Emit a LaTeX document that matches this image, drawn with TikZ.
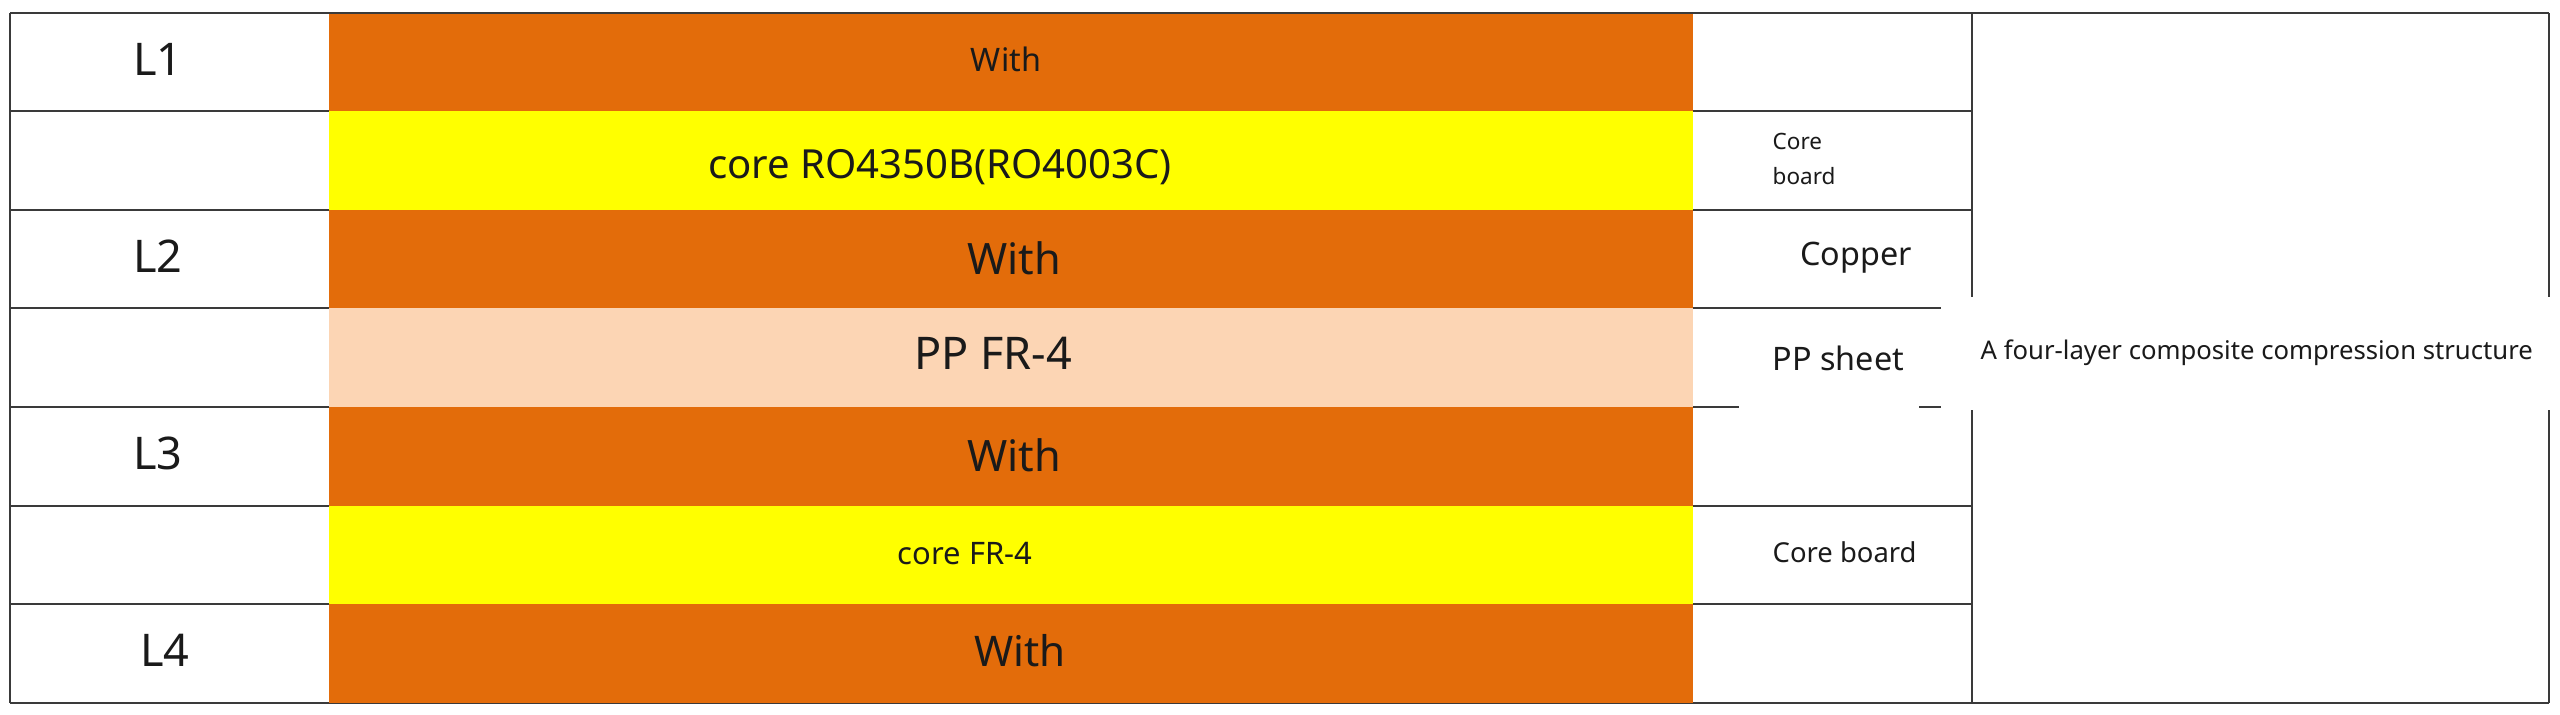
\documentclass[tikz,border=0pt]{standalone}
\usepackage{fontspec}
\setmainfont{Noto Sans}
\definecolor{cu}{HTML}{E36C0A}
\definecolor{corec}{HTML}{FFFF00}
\definecolor{ppc}{HTML}{FCD5B4}
\definecolor{gridc}{HTML}{3A3A3A}
\definecolor{textc}{HTML}{1A1A1A}
\newcommand{\pxf}[1]{\fontsize{#1pt}{#1pt}\selectfont}
\begin{document}
\begin{tikzpicture}[x=0.01cm,y=-0.01cm,
  gridline/.style={draw=gridc, line width=0.6pt},
  txt/.style={inner sep=0pt, anchor=base, text=textc},
  txtl/.style={inner sep=0pt, anchor=base west, text=textc},
  blank/.style={fill=white, draw=none}]
\useasboundingbox (0,0) rectangle (2560,714);
\fill[white] (0,0) rectangle (2560,714);
% frame
\draw[gridline] (10,13) -- (2549,13);
\draw[gridline] (10,703) -- (2549,703);
\draw[gridline] (10,13) -- (10,703);
\draw[gridline] (2549,13) -- (2549,703);
\draw[gridline] (1972,13) -- (1972,703);
% row lines
\foreach \y in {111,210,308,407,506,604} {
  \draw[gridline] (10,\y) -- (329,\y);
  \draw[gridline] (1693,\y) -- (1972,\y);
}
% layer bands
\fill[cu]    (329,13.5)  rectangle (1693,111);
\fill[corec] (329,111) rectangle (1693,210);
\fill[cu]    (329,210) rectangle (1693,308);
\fill[ppc]   (329,308) rectangle (1693,407);
\fill[cu]    (329,407) rectangle (1693,506);
\fill[corec] (329,506) rectangle (1693,604);
\fill[cu]    (329,604) rectangle (1693,702.5);
% white label backgrounds
\fill[blank] (1941,297) rectangle (2560,410);
\fill[blank] (1739,318) rectangle (1919,410);
% left labels
\node[txt, font=\pxf{12.8}] (l1) at (158,75) {L1};
\node[txt, font=\pxf{12.8}] (l2) at (158,272) {L2};
\node[txt, font=\pxf{12.8}] (l3) at (158,469) {L3};
\node[txt, font=\pxf{12.8}] (l4) at (165,666) {L4};
% band labels
\node[txt, font=\pxf{9.2}]  (w1) at (1006,71) {With};
\node[txt, font=\pxf{11.4}] (c1) at (940,178) {core RO4350B(RO4003C)};
\node[txt, font=\pxf{12.3}] (w2) at (1014,274) {With};
\node[txt, font=\pxf{12.8}] (pp) at (993,369) {PP FR-4};
\node[txt, font=\pxf{12.3}] (w3) at (1014,471) {With};
\node[txt, font=\pxf{8.8}]  (c2) at (965,564) {core FR-4};
\node[txt, font=\pxf{12}]   (w4) at (1020,666) {With};
% right labels
\node[txtl, font=\pxf{6.4}] (cb1) at (1772,149) {Core};
\node[txtl, font=\pxf{6.4}] (cb2) at (1772,184) {board};
\node[txt, font=\pxf{9.2}]  (cop) at (1856,265) {Copper};
\node[txtl, font=\pxf{9.2}] (pps) at (1772,370) {PP sheet};
\node[txtl, font=\pxf{7.3}] (desc) at (1980,359) {A four-layer composite compression structure};
\node[txtl, font=\pxf{7.8}] (cb3) at (1772,562) {Core board};
\end{tikzpicture}
\end{document}
